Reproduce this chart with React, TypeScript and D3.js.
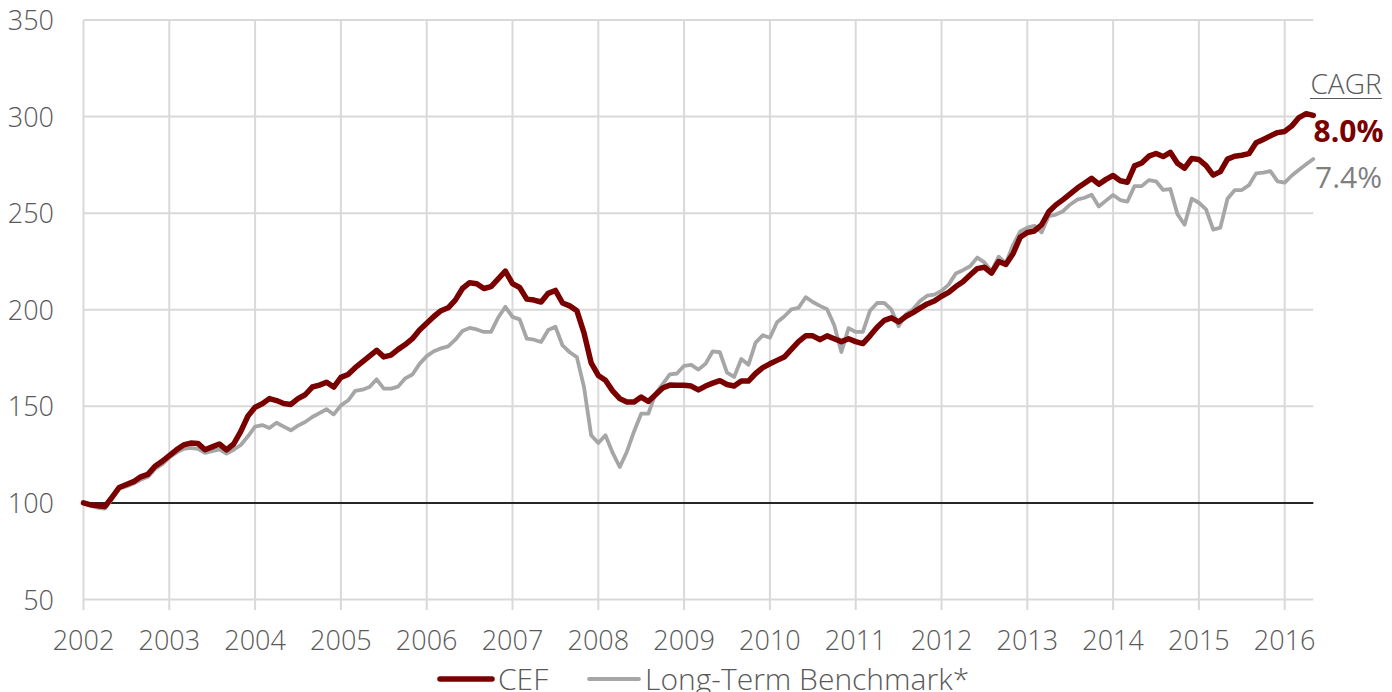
import React from "react";
import * as d3 from "d3";

const yearLabels = ["2002","2003","2004","2005","2006","2007","2008","2009","2010","2011","2012","2013","2014","2015","2016"];
const yTicks = [50, 100, 150, 200, 250, 300, 350];

// Monthly index values, Jan 2002 .. May 2016
const cefValues = [
  100, 99, 98.5, 98.2, 103, 108, 109.5, 111, 113.5, 114.8, 119, 121.5,
  124.5, 127.5, 130, 131, 130.8, 127.5, 129, 130.5, 127.5, 130.5, 137, 145,
  149.5, 151.3, 154, 153, 151.5, 151, 154, 156, 160, 161, 162.5, 160,
  165, 166.5, 170, 173, 176, 179, 175.6, 176.5, 179.5, 182, 185, 189.5,
  193, 196.5, 199.5, 201, 205, 211, 214, 213.5, 211, 212, 216, 220,
  213.5, 211.5, 205.5, 205, 204, 208.5, 210, 203.5, 202, 199.5, 188, 172.5,
  166, 163.5, 158, 154, 152.2, 152.2, 154.8, 152.5, 156, 159.5, 161, 160.9,
  160.9, 160.5, 158.5, 160.5, 162, 163.3, 161.3, 160.5, 163.1, 163.1, 167, 170,
  172, 173.8, 175.5, 179.5, 183.5, 186.5, 186.5, 184.5, 186.5, 185, 183.5, 185,
  183.5, 182.5, 186.5, 191, 194.5, 195.8, 193.7, 196.5, 198.5, 200.8, 203, 204.5,
  207, 209, 212, 214.5, 218, 221.3, 222, 219, 225, 223.5, 229, 237.5,
  240, 240.8, 244, 250.7, 254.3, 257, 260, 263, 265.5, 268, 265, 267.5,
  269.5, 266.8, 266, 274.5, 276, 279.5, 280.9, 279.3, 281.5, 275.8, 273.3, 278.3,
  277.8, 274.6, 269.7, 271.5, 278, 279.5, 280, 280.8, 286.5, 288.2, 290, 291.7,
  292.3, 295.2, 299.5, 301.5, 300.6
];

const benchValues = [
  100, 98.5, 97.5, 97, 102, 107.5, 108.5, 110, 112, 113.5, 117.5, 120,
  123.5, 126, 128, 128.5, 128, 125.9, 126.8, 127.7, 125.5, 127.5, 130, 134.5,
  139.5, 140.3, 138.8, 141.5, 139.5, 137.6, 140, 141.9, 144.5, 146.5, 148.5, 145.8,
  150.5, 153, 158, 158.6, 160, 164, 159.2, 159.2, 160.2, 164.5, 166.5, 172,
  176, 178.5, 180, 181, 184.5, 189, 190.6, 189.8, 188.5, 188.5, 196, 201.5,
  196.3, 195, 185, 184.5, 183.3, 189.5, 191.2, 181.5, 178, 175.5, 160, 135,
  131, 135, 126, 118.6, 126.5, 137, 146.2, 146.2, 156.6, 161.5, 166.5, 167,
  171, 171.5, 169, 172, 178.5, 178, 167.5, 165.2, 174.5, 171.5, 183, 186.8,
  185.5, 193.5, 196.5, 200.2, 201, 206.5, 204, 202, 200.3, 192, 178.1, 190.5,
  188.5, 188.5, 199.5, 203.5, 203.5, 200, 191.5, 197.5, 200.3, 204.5, 207.3, 207.8,
  209.8, 213, 218.8, 220.5, 222.5, 227, 224.5, 220, 227.5, 224, 233.5, 240.5,
  242.5, 243.5, 240, 248.5, 249.3, 251, 254.5, 257, 258, 259.5, 253.5, 256.5,
  259.4, 256.8, 256, 264, 264, 267.1, 266.5, 262, 262.5, 249.5, 244, 257.5,
  255.4, 252, 241.5, 242.5, 257.5, 261.9, 262, 264.5, 270.6, 271, 271.8, 266.5,
  265.8, 269.5, 272.5, 275.3, 278
];

const cagrTitle = "CAGR";
const cagrCef = "8.0%";
const cagrBench = "7.4%";
const seriesNames = ["CEF", "Long-Term Benchmark*"];

const W = 1392;
const H = 692;
const FONT = "'Open Sans', 'Segoe UI', sans-serif";

export default function App() {
  const x = d3.scaleLinear().domain([0, 172]).range([83.5, 1313.3]);
  const y = d3.scaleLinear().domain([50, 350]).range([599.5, 20]);
  const line = d3
    .line<number>()
    .x((_, i) => x(i))
    .y((d) => y(d));

  const red = "#7A0000";
  const gray = "#A6A6A6";
  const grid = "#D9D9D9";
  const text = "#595959";

  return (
    <svg
      width={W}
      height={H}
      style={{ position: "absolute", left: 0, top: 0, background: "#fff" }}
      fontFamily={FONT}
    >
      {/* horizontal gridlines */}
      {yTicks.map((t) => (
        <line key={"h" + t} x1={x(0)} x2={x(172)} y1={y(t)} y2={y(t)} stroke={grid} strokeWidth={2} />
      ))}
      {/* vertical gridlines */}
      {yearLabels.map((lab, i) => (
        <line key={"v" + lab} x1={x(i * 12)} x2={x(i * 12)} y1={y(350)} y2={610} stroke={grid} strokeWidth={2} />
      ))}
      {/* y labels */}
      {yTicks.map((t) => (
        <text key={"yl" + t} x={54} y={y(t) + 10} textAnchor="end" fontSize={27} fontWeight={300} fill={text}>
          {t}
        </text>
      ))}
      {/* x labels */}
      {yearLabels.map((lab, i) => (
        <text key={"xl" + lab} x={x(i * 12)} y={650} textAnchor="middle" fontSize={27} fontWeight={300} fill={text}>
          {lab}
        </text>
      ))}
      {/* baseline 100 */}
      <line x1={x(0)} x2={x(172)} y1={y(100)} y2={y(100)} stroke="#262626" strokeWidth={2} />
      {/* series */}
      <path d={line(benchValues) || ""} fill="none" stroke={gray} strokeWidth={3.8} strokeLinejoin="round" strokeLinecap="round" />
      <path d={line(cefValues) || ""} fill="none" stroke={red} strokeWidth={5.5} strokeLinejoin="round" strokeLinecap="round" />
      {/* CAGR annotation */}
      <text x={1346} y={94} textAnchor="middle" fontSize={28} fontWeight={300} fill={text}>
        {cagrTitle}
      </text>
      <line x1={1310} x2={1382} y1={98.5} y2={98.5} stroke={text} strokeWidth={1.2} />
      <text x={1348.5} y={141.5} textAnchor="middle" fontSize={30} fontWeight={700} fill={red}>
        {cagrCef}
      </text>
      <text x={1348.5} y={188} textAnchor="middle" fontSize={30} fontWeight={400} fill="#7F7F7F">
        {cagrBench}
      </text>
      {/* legend */}
      <line x1={440} x2={492} y1={679} y2={679} stroke={red} strokeWidth={5.5} strokeLinecap="round" />
      <text x={498} y={690} fontSize={30} fontWeight={300} fill={text}>
        {seriesNames[0]}
      </text>
      <line x1={589} x2={639} y1={679} y2={679} stroke={gray} strokeWidth={3.8} strokeLinecap="round" />
      <text x={645} y={690} fontSize={30} fontWeight={300} fill={text}>
        {seriesNames[1]}
      </text>
    </svg>
  );
}
